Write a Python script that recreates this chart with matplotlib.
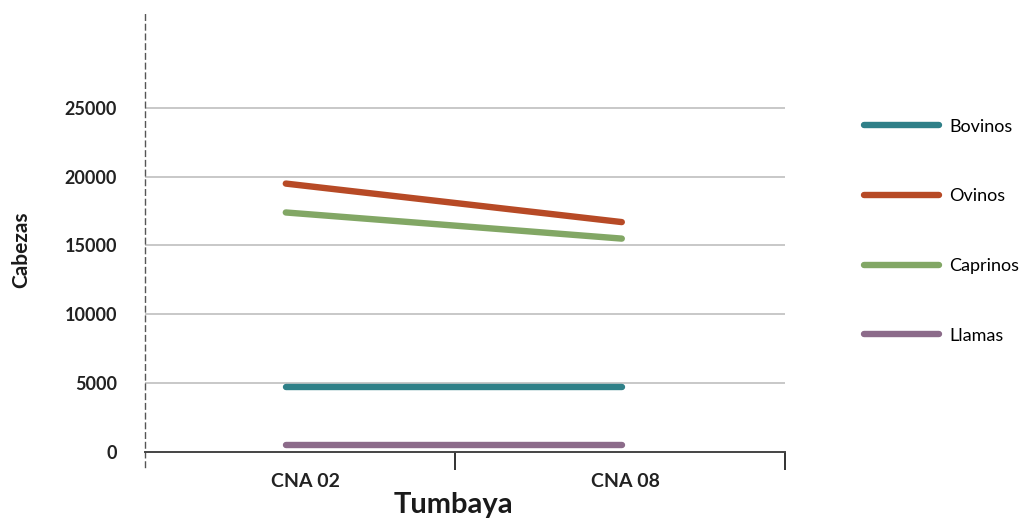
import matplotlib.pyplot as plt

# Existencias ganaderas en Tumbaya (cabezas) según censo
censos = ['CNA 02', 'CNA 08']
especies = ['Bovinos', 'Ovinos', 'Caprinos', 'Llamas']
bovinos = [4700, 4700]
ovinos = [19500, 16700]
caprinos = [17400, 15500]
llamas = [500, 500]
colores = ['#2f8088', '#b74a26', '#82a765', '#8c6b8a']

plt.rcParams['font.family'] = ['Lato', 'DejaVu Sans']

fig = plt.figure(figsize=(10.24, 5.2), dpi=100)
ax = fig.add_axes([0.1416, 0.102, 0.625, 0.873])

x = [0.44, 1.49]
for serie, nombre, color in zip([bovinos, ovinos, caprinos, llamas], especies, colores):
    ax.plot(x, serie, color=color, lw=4.6, solid_capstyle='round', label=nombre)

ax.set_xlim(0, 2)
ax.set_ylim(-1100, 31900)

# Líneas de referencia horizontales
ax.set_yticks([0, 5000, 10000, 15000, 20000, 25000])
for v in [5000, 10000, 15000, 20000, 25000]:
    ax.axhline(v, color='#c4c4c4', lw=1.3, zorder=0)

ax.tick_params(axis='y', length=0, pad=20, labelsize=13)
for t in ax.get_yticklabels():
    t.set_fontweight('bold')
    t.set_color('#222222')

# Eje inferior sobre el valor 0
for s in ['top', 'right']:
    ax.spines[s].set_visible(False)
ax.spines['bottom'].set_position(('data', 0))
ax.spines['bottom'].set_color('#444444')
ax.spines['bottom'].set_linewidth(1.4)
ax.spines['left'].set_linestyle((0, (4, 3)))
ax.spines['left'].set_color('#555555')
ax.spines['left'].set_linewidth(1.0)

ax.set_xticks([0.97, 2])
ax.set_xticklabels(['', ''])
ax.tick_params(axis='x', which='major', length=13, width=1.4, color='#333333', direction='out')
ax.set_xticks([0.5, 1.5], minor=True)
ax.set_xticklabels(censos, minor=True)
ax.tick_params(axis='x', which='minor', length=0, pad=15, labelsize=14)
for t in ax.get_xticklabels(minor=True):
    t.set_fontweight('bold')
    t.set_color('#222222')

fig.text(0.443, 0.028, 'Tumbaya', ha='center', va='center', fontsize=21,
         fontweight='bold', color='#1a1a1a')
fig.text(0.021, 0.519, 'Cabezas', ha='center', va='center', rotation=90,
         fontsize=15, fontweight='bold', color='#1a1a1a')

leg = fig.legend(loc='upper left', bbox_to_anchor=(0.828, 0.803), frameon=False,
                 fontsize=13, handlelength=4.15, handletextpad=0.55, labelspacing=2.97)
for h in leg.get_lines():
    h.set_linewidth(4.6)

fig.savefig('out.png', dpi=100)
